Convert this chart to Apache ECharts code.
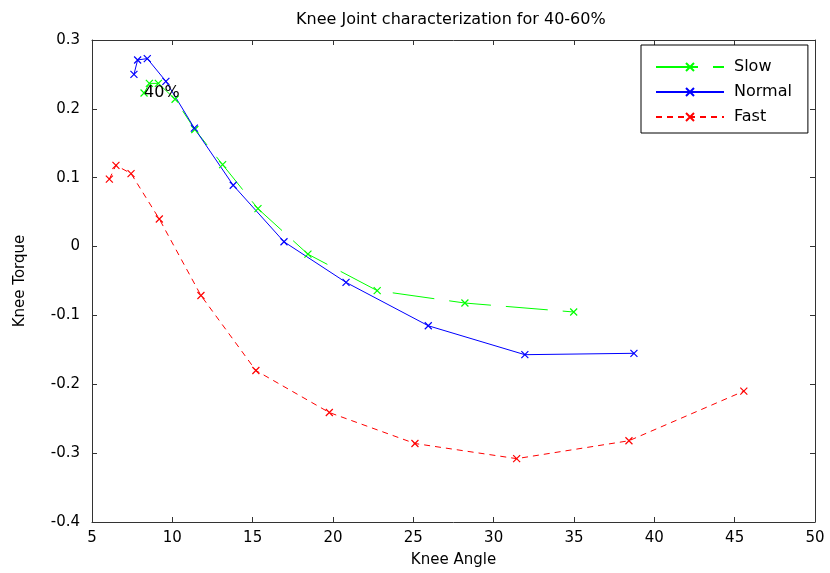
<!DOCTYPE html>
<html>
<head>
<meta charset="utf-8">
<script src="https://cdn.jsdelivr.net/npm/echarts@6/dist/echarts.min.js"></script>
<style>
  html, body { margin: 0; padding: 0; background: #fff; }
  #chart { width: 830px; height: 573px; }
</style>
</head>
<body>
<div id="chart"></div>
<script>
// Knee angle (deg) and knee torque for each walking speed
const angleSlow   = [8.24, 8.57, 9.13, 10.17, 11.4, 13.13, 15.33, 18.44, 22.75, 28.21, 34.98];
const torqueSlow  = [0.223, 0.237, 0.237, 0.214, 0.170, 0.119, 0.055, -0.011, -0.064, -0.082, -0.095];

const angleNormal  = [7.61, 7.84, 8.44, 9.60, 11.37, 13.79, 16.95, 20.81, 25.93, 31.94, 38.73];
const torqueNormal = [0.250, 0.271, 0.273, 0.240, 0.172, 0.089, 0.007, -0.052, -0.115, -0.157, -0.155];

const angleFast  = [6.08, 6.49, 7.43, 9.19, 11.78, 15.20, 19.77, 25.10, 31.43, 38.42, 45.57];
const torqueFast = [0.098, 0.118, 0.106, 0.040, -0.071, -0.180, -0.241, -0.286, -0.308, -0.282, -0.210];

const seriesNames = ['Slow', 'Normal', 'Fast'];
const xTicks = { min: 5, max: 50, step: 5 };
const yTicks = { min: -0.4, max: 0.3, step: 0.1 };
const annotationText = '40%';

const pairs = (xs, ys) => xs.map((x, i) => [x, ys[i]]);
const cross = 'path://M0,0L10,10M10,0L0,10';
const font = 'DejaVu Sans, Verdana, sans-serif';

function makeSeries(name, data, color, dash, extra) {
  return Object.assign({
    name: name,
    type: 'line',
    data: data,
    symbol: cross,
    symbolSize: 7,
    showAllSymbol: true,
    animation: false,
    lineStyle: { color: color, width: 1, type: dash },
    itemStyle: { color: 'transparent', borderColor: color, borderWidth: 1.2 }
  }, extra || {});
}

const axisLineStyle = { color: '#333', width: 1 };
const tickStyle = { inside: true, length: 5, lineStyle: { color: '#333' } };

const chart = echarts.init(document.getElementById('chart'), null, { renderer: 'canvas' });
chart.setOption({
  backgroundColor: '#fff',
  animation: false,
  title: {
    text: 'Knee Joint characterization for 40-60%',
    left: 291,
    top: 7,
    textStyle: { fontFamily: font, fontSize: 16, fontWeight: 'normal', color: '#000' }
  },
  grid: { left: 92, right: 15, top: 40, bottom: 51, containLabel: false },
  legend: {
    data: seriesNames,
    orient: 'vertical',
    left: 641,
    top: 45,
    itemWidth: 68,
    itemHeight: 10,
    itemGap: 9,
    padding: [14, 16, 8, 14],
    backgroundColor: '#fff',
    borderColor: '#000',
    borderWidth: 1,
    borderRadius: 0,
    textStyle: { fontFamily: font, fontSize: 16, color: '#000', padding: [0, 0, 0, 5] }
  },
  xAxis: [{
    type: 'value',
    min: xTicks.min, max: xTicks.max, interval: xTicks.step,
    name: 'Knee Angle',
    nameLocation: 'middle',
    nameGap: 31,
    nameTextStyle: { fontFamily: font, fontSize: 15, color: '#000' },
    axisLine: { show: true, onZero: false, lineStyle: axisLineStyle },
    axisTick: tickStyle,
    axisLabel: { fontFamily: font, fontSize: 15, color: '#000', margin: 9 },
    splitLine: { show: false }
  }, {
    type: 'value', position: 'top',
    min: xTicks.min, max: xTicks.max, interval: xTicks.step,
    axisLine: { show: true, onZero: false, lineStyle: axisLineStyle },
    axisTick: tickStyle,
    axisLabel: { show: false },
    splitLine: { show: false }
  }],
  yAxis: [{
    type: 'value',
    min: yTicks.min, max: yTicks.max, interval: yTicks.step,
    name: 'Knee Torque',
    nameLocation: 'middle',
    nameGap: 64,
    nameTextStyle: { fontFamily: font, fontSize: 15, color: '#000' },
    axisLine: { show: true, onZero: false, lineStyle: axisLineStyle },
    axisTick: tickStyle,
    axisLabel: {
      fontFamily: font, fontSize: 15, color: '#000', margin: 12,
      formatter: v => String(+v.toFixed(1))
    },
    splitLine: { show: false }
  }, {
    type: 'value', position: 'right',
    min: yTicks.min, max: yTicks.max, interval: yTicks.step,
    axisLine: { show: true, onZero: false, lineStyle: axisLineStyle },
    axisTick: tickStyle,
    axisLabel: { show: false },
    splitLine: { show: false }
  }],
  series: [
    makeSeries('Slow', pairs(angleSlow, torqueSlow), '#00ff00', [42, 15], {
      markPoint: {
        symbol: 'circle',
        symbolSize: 0,
        data: [{ coord: [angleSlow[0], torqueSlow[0]] }],
        label: {
          show: true,
          formatter: annotationText,
          position: 'right',
          distance: 0,
          fontFamily: font,
          fontSize: 16,
          color: '#000'
        }
      }
    }),
    makeSeries('Normal', pairs(angleNormal, torqueNormal), '#0000ff', 'solid'),
    makeSeries('Fast', pairs(angleFast, torqueFast), '#ff0000', [6, 5])
  ]
});
</script>
</body>
</html>
